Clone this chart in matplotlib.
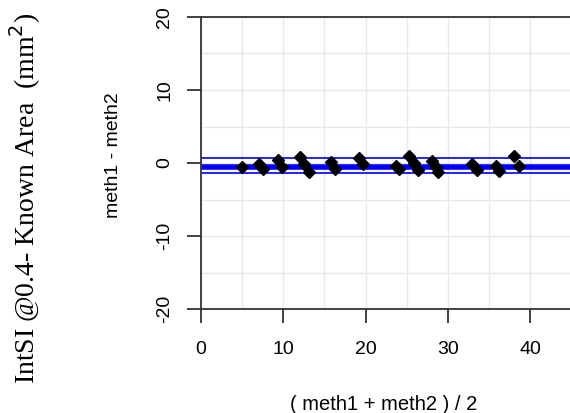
import matplotlib
matplotlib.use('Agg')
import matplotlib.pyplot as plt

# Bland-Altman style points: mean of methods vs difference
avg = [5.0, 7.0, 7.5, 9.35, 9.85, 12.05, 12.55, 13.1, 15.85, 16.35,
       19.25, 19.65, 23.75, 24.05, 25.3, 25.9, 26.4, 28.1, 28.55, 28.85,
       32.95, 33.5, 35.85, 36.25, 38.0, 38.6]
diff = [-0.5, -0.15, -0.85, 0.4, -0.5, 0.8, -0.2, -1.25, 0.1, -0.8,
        0.75, -0.2, -0.35, -0.85, 0.95, -0.05, -0.95, 0.25, -0.5, -1.2,
        -0.2, -0.95, -0.35, -1.1, 1.0, -0.35]

mean_diff = -0.57
limits = [0.64, -1.41]

x_ticks = [0, 10, 20, 30, 40]
y_ticks = [-20, -10, 0, 10, 20]

plt.rcParams['font.family'] = ['Liberation Sans', 'DejaVu Sans']

fig = plt.figure(figsize=(5.7, 4.13), dpi=100)
ax = fig.add_axes([201 / 570, 1 - 309 / 413, 1 - 201 / 570, 292 / 413])

ax.set_xlim(0, 44.86)
ax.set_ylim(-20, 20)

ax.set_xticks([v for v in range(5, 45, 5)], minor=True)
ax.set_yticks([v for v in range(-20, 21, 5)], minor=True)
ax.grid(True, which='both', color='#e8e8e8', linewidth=1)
ax.set_axisbelow(True)

ax.axhline(mean_diff, color='#0000ff', linewidth=4)
for lim in limits:
    ax.axhline(lim, color='#0000ff', linewidth=1.2)

ax.plot(avg, diff, 'D', color='black', markersize=6.5, zorder=5)

ax.set_xticks(x_ticks)
ax.set_yticks(y_ticks)
ax.set_xticklabels([str(v) for v in x_ticks], fontsize=14)
ax.set_yticklabels([str(v) for v in y_ticks], fontsize=14, rotation=90, va='center')
ax.tick_params(which='major', direction='out', length=10, width=1.2, color='#222222')
ax.tick_params(axis='x', which='major', pad=13)
ax.tick_params(axis='y', which='major', pad=10)
ax.tick_params(which='minor', length=0)

for side in ['left', 'bottom', 'top']:
    ax.spines[side].set_color('#333333')
    ax.spines[side].set_linewidth(1.3)
ax.spines['right'].set_visible(False)

ax.set_xlabel('( meth1 + meth2 ) / 2', fontsize=14.5)
ax.set_ylabel('meth1 - meth2', fontsize=14)
ax.xaxis.set_label_coords(0.495, -0.295)
ax.yaxis.set_label_coords(-0.214, 0.526)

fig.text(25 / 570, 1 - 198.5 / 413, 'IntSI @0.4- Known Area  (mm$^2$)',
         rotation=90, ha='center', va='center', fontsize=20,
         family='Liberation Serif')

fig.savefig('out.png', dpi=100)
